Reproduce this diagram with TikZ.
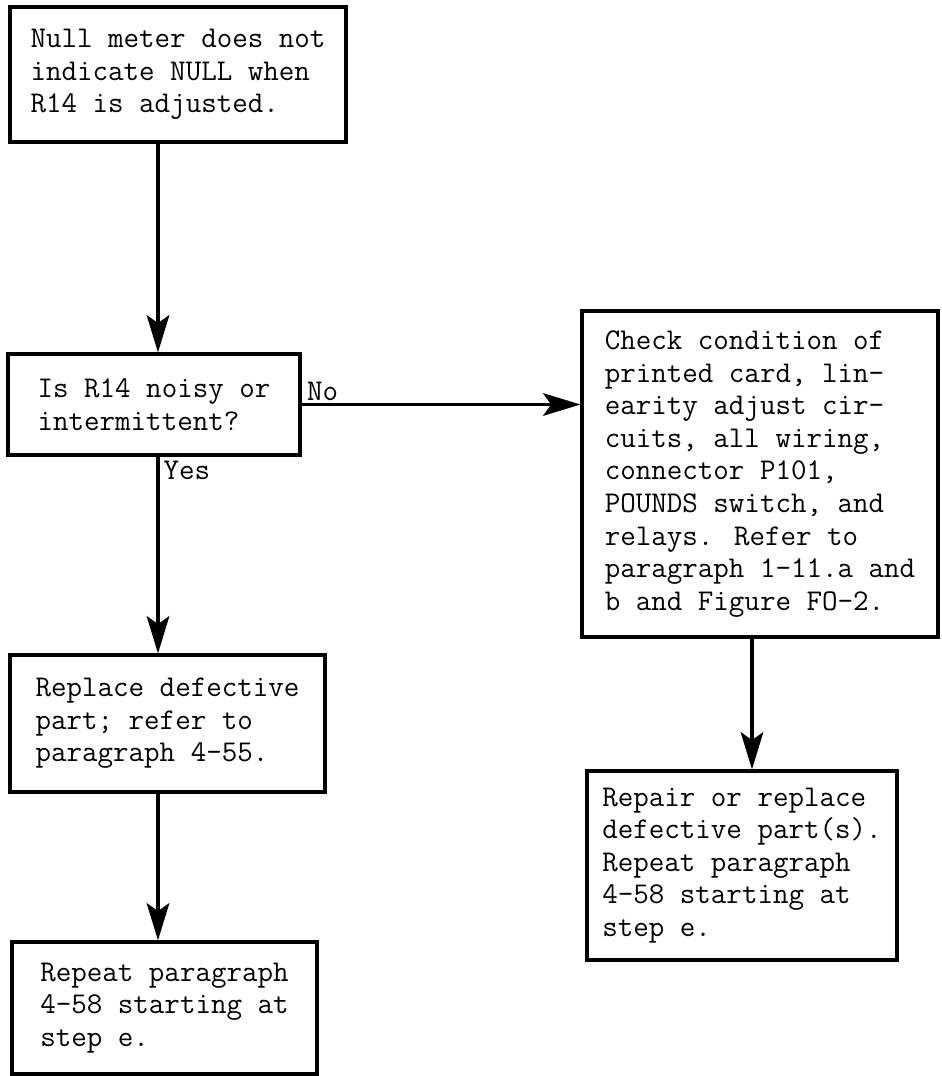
\documentclass[tikz,border=0pt]{standalone}
\usepackage{fontspec}
\usetikzlibrary{arrows.meta}
\newcommand{\typed}{\fontsize{22.6pt}{24.4pt}\selectfont\ttfamily\addfontfeatures{FakeBold=1.4}}

\begin{document}
\begin{tikzpicture}[x=0.75pt,y=-0.75pt,
  card/.style={draw, line width=2.4pt, align=left, font=\typed, inner sep=0pt},
  flow/.style={line width=2.3pt, -{Stealth[length=28pt,width=17pt,inset=6pt]}},
  tag/.style={font=\typed, inner sep=1pt}]
\useasboundingbox (0,0) rectangle (942,1076);
\coordinate (col) at (158,0);
\coordinate (col2) at (752,0);
% left column
\node[card, minimum width=252pt, minimum height=101.25pt] (b1) at (178,74.5)
  {Null meter does not\\indicate NULL when\\R14 is adjusted.};
\node[card, minimum width=219pt, minimum height=75.75pt] (b2) at (154,404.5)
  {Is R14 noisy or\\intermittent?};
\node[card, minimum width=236.25pt, minimum height=102.75pt] (b3) at (167.5,723.5)
  {Replace defective\\part; refer to\\paragraph 4-55.};
\node[card, minimum width=228.75pt, minimum height=99pt] (b4) at (164.5,1008)
  {Repeat paragraph\\4-58 starting at\\step e.};
% right column
\node[card, minimum width=267pt, minimum height=244.5pt] (b5) at (760,474)
  {Check condition of\\printed card, lin-\\earity adjust cir-\\cuits, all wiring,\\connector P101,\\POUNDS switch, and\\relays.  Refer to\\paragraph 1-11.a and\\b and Figure FO-2.};
\node[card, minimum width=232.5pt, minimum height=141.75pt] (b6) at (742,865.5)
  {Repair or replace\\defective part(s).\\Repeat paragraph\\4-58 starting at\\step e.};
% arrows
\draw[flow] (b1.south -| col) -- (b2.north -| col);
\draw[flow] (b2.south -| col) -- (b3.north -| col);
\draw[flow] (b3.south -| col) -- (b4.north -| col);
\draw[flow] (b2.east) -- (b2.east -| b5.west);
\draw[flow] (b5.south -| col2) -- (b6.north -| col2);
\node[tag, anchor=south west] (no) at ([xshift=3pt,yshift=2pt]b2.east) {No};
\node[tag, anchor=north west] (yes) at ([xshift=3pt,yshift=-2pt]b2.south -| col) {Yes};
\end{tikzpicture}
\end{document}
